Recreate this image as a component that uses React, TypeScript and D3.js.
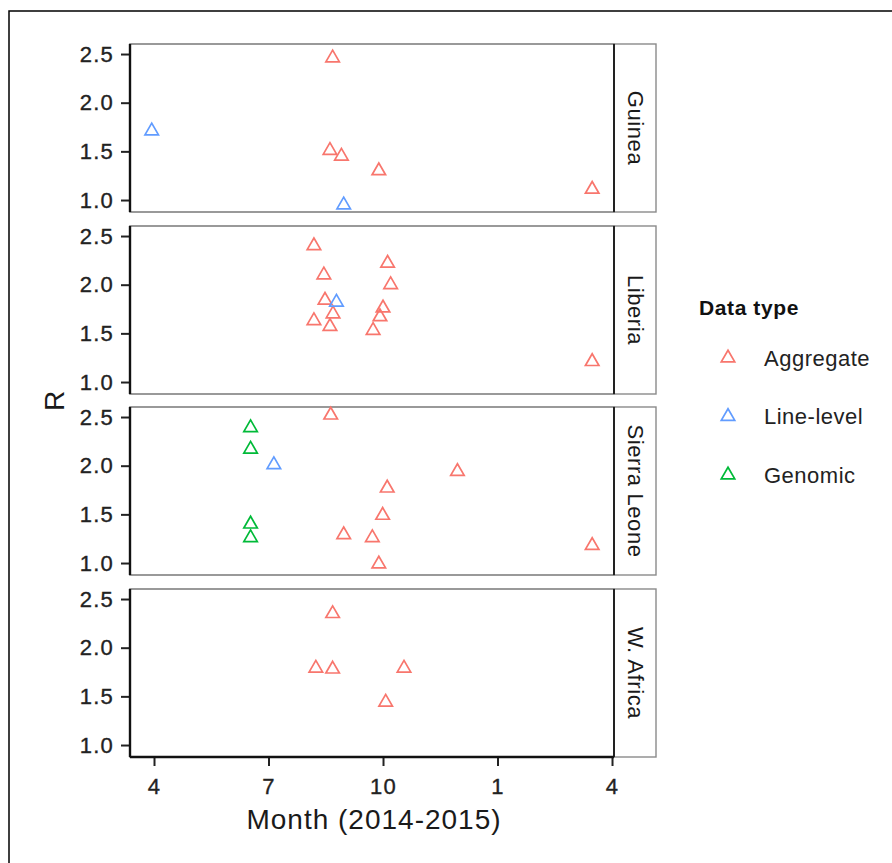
import { useEffect, useRef } from "react";
import * as d3 from "d3";

// month index: 4 = April 2014 ... 16 = April 2015
const regions = ["Guinea", "Liberia", "Sierra Leone", "W. Africa"];
const dataTypes = ["Aggregate", "Line-level", "Genomic"];
const typeColors = ["#F8766D", "#619CFF", "#00BA38"];
const monthTicks = [4, 7, 10, 13, 16];
const monthTickLabels = ["4", "7", "10", "1", "4"];
const rTicks = [1.0, 1.5, 2.0, 2.5];

// [month, R, type]
const guinea = [
  [8.68, 2.46, 0], [8.61, 1.51, 0], [8.91, 1.45, 0], [9.89, 1.30, 0], [15.48, 1.11, 0],
  [3.94, 1.71, 1], [8.97, 0.95, 1],
];
const liberia = [
  [8.19, 2.40, 0], [8.45, 2.10, 0], [8.48, 1.84, 0], [8.69, 1.70, 0], [8.19, 1.63, 0],
  [8.61, 1.57, 0], [10.12, 2.22, 0], [10.2, 2.00, 0], [10.0, 1.76, 0], [9.92, 1.67, 0],
  [9.74, 1.53, 0], [15.48, 1.21, 0],
  [8.78, 1.82, 1],
];
const sierraLeone = [
  [8.63, 2.52, 0], [11.95, 1.94, 0], [10.11, 1.77, 0], [9.99, 1.49, 0], [8.97, 1.29, 0],
  [9.72, 1.26, 0], [9.89, 0.99, 0], [15.48, 1.18, 0],
  [7.14, 2.01, 1],
  [6.53, 2.39, 2], [6.53, 2.17, 2], [6.53, 1.40, 2], [6.53, 1.26, 2],
];
const wAfrica = [
  [8.68, 2.35, 0], [8.24, 1.79, 0], [8.68, 1.78, 0], [10.55, 1.79, 0], [10.07, 1.44, 0],
];
const regionPoints = [guinea, liberia, sierraLeone, wAfrica];

const font = "'Liberation Sans', Arial, Helvetica, sans-serif";

function trianglePath(s: number) {
  const r = s / Math.sqrt(3);
  return `M0,${-r}L${s / 2},${r / 2}L${-s / 2},${r / 2}Z`;
}

export default function App() {
  const ref = useRef<SVGSVGElement>(null);

  useEffect(() => {
    const svg = d3.select(ref.current);
    svg.selectAll("*").remove();

    const left = 130;
    const right = 614;
    const stripW = 42;
    const panelTops = [44, 226, 407, 589];
    const panelH = 168;

    // outer frame (only top and left edges fall inside the picture)
    svg.append("rect")
      .attr("x", 9).attr("y", 11)
      .attr("width", 1000).attr("height", 1000)
      .attr("fill", "none").attr("stroke", "#000").attr("stroke-width", 1.5);

    const x = d3.scaleLinear().domain([3.371, 16.052]).range([left, right]);
    const tri = trianglePath(13.5);

    const styleTicks = (sel: any) => {
      sel.select(".domain").remove();
      sel.selectAll(".tick line").attr("stroke", "#222").attr("stroke-width", 2);
      sel.selectAll(".tick text")
        .attr("font-family", font).attr("font-size", 22)
        .attr("letter-spacing", 1.2).attr("fill", "#222")
        .attr("stroke", "#222").attr("stroke-width", 0.35);
    };

    regions.forEach((name, i) => {
      const top = panelTops[i];
      const y = d3.scaleLinear().domain([0.877, 2.603]).range([top + panelH, top]);
      const g = svg.append("g");

      // panel border
      g.append("rect")
        .attr("x", left).attr("y", top)
        .attr("width", right - left).attr("height", panelH)
        .attr("fill", "#fff").attr("stroke", "#808080").attr("stroke-width", 1.6);

      // strip
      g.append("rect")
        .attr("x", right).attr("y", top)
        .attr("width", stripW).attr("height", panelH)
        .attr("fill", "#fff").attr("stroke", "#8a8a8a").attr("stroke-width", 1.4);
      g.append("line")
        .attr("x1", right).attr("x2", right)
        .attr("y1", top).attr("y2", top + panelH)
        .attr("stroke", "#222").attr("stroke-width", 2);
      g.append("text")
        .attr("transform", `translate(${right + stripW / 2},${top + panelH / 2}) rotate(90)`)
        .attr("text-anchor", "middle")
        .attr("dominant-baseline", "central")
        .attr("font-family", font)
        .attr("font-size", 22)
        .attr("letter-spacing", 0.6)
        .attr("fill", "#1a1a1a")
        .text(name);

      // y axis
      const yAxis = g.append("g")
        .attr("transform", `translate(${left},0)`)
        .call(d3.axisLeft(y).tickValues(rTicks).tickFormat(d3.format(".1f")).tickSize(9).tickPadding(7));
      styleTicks(yAxis);
      g.append("line")
        .attr("x1", left).attr("x2", left)
        .attr("y1", top).attr("y2", top + panelH)
        .attr("stroke", "#111").attr("stroke-width", 2.4);

      // points
      g.selectAll(".pt")
        .data(regionPoints[i])
        .join("path")
        .attr("class", "pt")
        .attr("d", tri)
        .attr("transform", d => `translate(${x(d[0])},${y(d[1])})`)
        .attr("fill", "none")
        .attr("stroke", d => typeColors[d[2]])
        .attr("stroke-width", 1.7);

      if (i === regions.length - 1) {
        const xAxis = g.append("g")
          .attr("transform", `translate(0,${top + panelH})`)
          .call(d3.axisBottom(x).tickValues(monthTicks)
            .tickFormat((d, k) => monthTickLabels[k]).tickSize(9).tickPadding(12));
        styleTicks(xAxis);
        g.append("line")
          .attr("x1", left).attr("x2", right)
          .attr("y1", top + panelH).attr("y2", top + panelH)
          .attr("stroke", "#111").attr("stroke-width", 2.4);
      }
    });

    // axis titles
    svg.append("text")
      .attr("x", (left + right) / 2 + 2).attr("y", 829)
      .attr("text-anchor", "middle")
      .attr("font-family", font).attr("font-size", 28)
      .attr("letter-spacing", 1).attr("fill", "#1a1a1a")
      .text("Month (2014-2015)");
    svg.append("text")
      .attr("transform", `translate(64,${(44 + 758) / 2}) rotate(-90)`)
      .attr("text-anchor", "middle")
      .attr("font-family", font).attr("font-size", 28)
      .attr("fill", "#1a1a1a")
      .text("R");

    // legend
    const legend = svg.append("g");
    legend.append("text")
      .attr("x", 699).attr("y", 315)
      .attr("font-family", font).attr("font-size", 21)
      .attr("font-weight", "bold").attr("letter-spacing", 0.6)
      .attr("fill", "#111")
      .text("Data type");
    dataTypes.forEach((t, k) => {
      const cy = 358 + k * 58.5;
      legend.append("path")
        .attr("d", tri)
        .attr("transform", `translate(728,${cy})`)
        .attr("fill", "none")
        .attr("stroke", typeColors[k])
        .attr("stroke-width", 1.7);
      legend.append("text")
        .attr("x", 764).attr("y", cy)
        .attr("dominant-baseline", "central")
        .attr("font-family", font).attr("font-size", 22)
        .attr("letter-spacing", 0.5).attr("fill", "#222")
        .text(t);
    });
  }, []);

  return (
    <div>
      <svg ref={ref} width={892} height={863} style={{ position: "absolute", left: 0, top: 0 }} />
    </div>
  );
}
